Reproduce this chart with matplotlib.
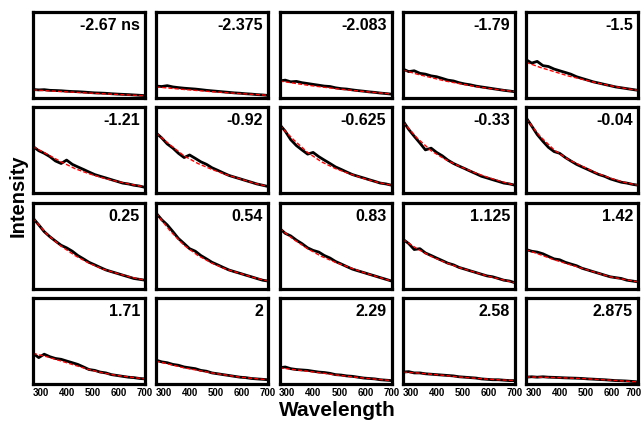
import numpy as np
import matplotlib
matplotlib.use("Agg")
from matplotlib import pyplot as plt
from matplotlib import transforms

plt.rcParams['font.family'] = ['Liberation Sans', 'DejaVu Sans']

# delay times shown in each panel (row by row)
delays = ['-2.67 ns', '-2.375', '-2.083', '-1.79', '-1.5',
          '-1.21', '-0.92', '-0.625', '-0.33', '-0.04',
          '0.25', '0.54', '0.83', '1.125', '1.42',
          '1.71', '2', '2.29', '2.58', '2.875']

# measured spectra, read at 21 positions across 270-700 nm
wl_data = [270, 292, 313, 335, 356, 378, 399, 421, 442, 464, 485,
           507, 528, 550, 571, 593, 614, 636, 657, 679, 700]
data = [
    [.09, .085, .088, .08, .078, .075, .07, .066, .064, .06, .055, .05, .048, .045, .04, .036, .033, .03, .026, .022, .018],
    [.13, .125, .135, .12, .112, .105, .10, .095, .088, .08, .074, .068, .062, .056, .05, .046, .04, .036, .03, .026, .02],
    [.19, .20, .18, .185, .17, .16, .15, .14, .13, .125, .11, .10, .095, .085, .077, .07, .062, .056, .048, .042, .035],
    [.33, .30, .31, .28, .27, .25, .24, .22, .20, .19, .17, .155, .145, .13, .12, .11, .10, .09, .08, .072, .063],
    [.44, .40, .42, .37, .36, .33, .31, .29, .27, .24, .22, .20, .18, .165, .15, .135, .12, .11, .10, .09, .08],
    [.54, .49, .46, .42, .37, .34, .38, .33, .30, .27, .24, .21, .19, .17, .15, .13, .11, .10, .085, .075, .06],
    [.70, .64, .57, .52, .46, .41, .44, .40, .36, .33, .29, .26, .23, .20, .18, .16, .14, .12, .10, .085, .07],
    [.80, .72, .62, .55, .50, .45, .47, .42, .38, .34, .30, .27, .24, .21, .19, .17, .15, .13, .11, .10, .085],
    [.84, .74, .66, .58, .50, .52, .47, .43, .38, .34, .31, .28, .25, .22, .19, .17, .15, .13, .11, .10, .085],
    [.88, .78, .68, .60, .53, .48, .46, .41, .37, .33, .30, .27, .24, .21, .19, .16, .14, .12, .11, .095, .085],
    [.82, .74, .66, .60, .55, .50, .47, .43, .38, .34, .30, .27, .24, .21, .19, .17, .15, .13, .11, .10, .09],
    [.88, .80, .74, .66, .58, .52, .46, .43, .38, .34, .30, .27, .24, .21, .19, .17, .15, .13, .11, .09, .08],
    [.70, .64, .61, .56, .52, .47, .44, .42, .38, .35, .31, .28, .25, .22, .20, .18, .16, .14, .12, .10, .08],
    [.57, .52, .45, .46, .41, .38, .35, .32, .29, .27, .24, .22, .20, .18, .16, .14, .13, .11, .09, .08, .06],
    [.45, .43, .42, .40, .37, .34, .33, .30, .28, .26, .23, .21, .19, .17, .15, .13, .12, .11, .09, .08, .07],
    [.35, .30, .34, .31, .29, .28, .26, .24, .22, .19, .16, .15, .13, .12, .10, .09, .08, .07, .065, .055, .05],
    [.27, .25, .24, .22, .21, .19, .18, .17, .15, .14, .12, .11, .10, .09, .08, .07, .065, .055, .05, .045, .04],
    [.18, .19, .17, .16, .155, .15, .14, .13, .125, .115, .10, .095, .085, .08, .07, .06, .055, .05, .04, .035, .03],
    [.13, .135, .12, .12, .11, .105, .10, .095, .09, .085, .075, .07, .065, .06, .05, .045, .04, .04, .035, .03, .03],
    [.07, .075, .07, .075, .07, .068, .065, .062, .06, .058, .055, .05, .047, .043, .04, .035, .03, .028, .025, .02, .015],
]

# fitted curves
wl_fit = [270, 324, 378, 431, 485, 539, 593, 646, 700]
fit = [
    [.085, .075, .066, .057, .048, .040, .032, .024, .017],
    [.12, .105, .09, .077, .064, .053, .042, .032, .022],
    [.19, .165, .14, .12, .10, .083, .067, .052, .038],
    [.32, .27, .23, .19, .16, .13, .105, .085, .065],
    [.41, .35, .30, .25, .21, .17, .135, .105, .08],
    [.54, .45, .36, .28, .22, .17, .13, .095, .065],
    [.70, .56, .43, .34, .27, .21, .16, .11, .07],
    [.79, .62, .47, .36, .28, .22, .165, .12, .085],
    [.83, .64, .49, .39, .31, .24, .18, .13, .085],
    [.87, .66, .50, .39, .31, .23, .17, .12, .085],
    [.82, .63, .49, .38, .29, .22, .17, .125, .09],
    [.88, .67, .50, .38, .29, .22, .17, .12, .08],
    [.70, .57, .46, .37, .30, .24, .18, .13, .08],
    [.57, .46, .37, .30, .24, .19, .14, .10, .06],
    [.45, .39, .33, .28, .23, .18, .13, .10, .07],
    [.35, .31, .26, .21, .16, .12, .09, .07, .05],
    [.26, .22, .18, .15, .12, .095, .07, .055, .04],
    [.18, .16, .14, .12, .097, .078, .06, .045, .03],
    [.13, .12, .105, .09, .073, .06, .047, .038, .03],
    [.073, .07, .066, .06, .054, .045, .035, .025, .015],
]

xticks = [300, 400, 500, 600, 700]

W, H = 644, 421
fig = plt.figure(figsize=(W / 100, H / 100), dpi=100)

col_left = [33, 156, 279.5, 403, 526]
row_top = [12, 107.3, 202.7, 298]
pw, ph = 112, 86

for i in range(20):
    r, c = divmod(i, 5)
    ax = fig.add_axes([col_left[c] / W, 1 - (row_top[r] + ph) / H, pw / W, ph / H])
    ax.plot(wl_data, data[i], color='black', lw=2.0)
    ax.plot(wl_fit, fit[i], color='red', lw=1.0, ls=(0, (3, 1.5)))
    ax.set_xlim(270, 700)
    ax.set_ylim(-0.01, 1.0)
    ax.set_yticks([])
    for s in ax.spines.values():
        s.set_linewidth(2.3)
    ax.text(0.955, 0.93, delays[i], transform=ax.transAxes, ha='right', va='top',
            fontsize=11.5, fontweight='bold')
    if r == 3:
        ax.set_xticks(xticks)
        labels = ax.set_xticklabels([str(t) for t in xticks], fontsize=7, fontweight='bold')
        ax.tick_params(axis='x', length=0, pad=3)
        if c == 4:
            # keep the last label inside the figure
            lab = labels[-1]
            lab.set_transform(lab.get_transform() +
                              transforms.ScaledTranslation(-3 / 72, 0, fig.dpi_scale_trans))
    else:
        ax.set_xticks([])

fig.text(337 / W, 1 - 411 / H, 'Wavelength', ha='center', va='center',
         fontsize=15, fontweight='bold')
fig.text(18 / W, 1 - 196 / H, 'Intensity', ha='center', va='center',
         rotation=90, fontsize=14.5, fontweight='bold')

fig.savefig('out.png', dpi=100)
